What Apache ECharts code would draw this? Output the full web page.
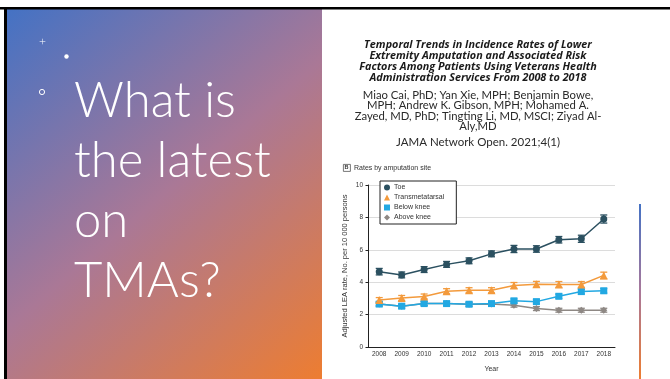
<!DOCTYPE html>
<html>
<head>
<meta charset="utf-8">
<script src="https://cdn.jsdelivr.net/npm/echarts@6/dist/echarts.min.js"></script>
<style>
  html, body { margin: 0; padding: 0; background: #ffffff; }
  #main { width: 670px; height: 379px; }
</style>
</head>
<body>
<div id="main"></div>
<script>
// Years on the horizontal axis
const years = ['2008', '2009', '2010', '2011', '2012', '2013', '2014', '2015', '2016', '2017', '2018'];

// Adjusted LEA rate per 10 000 persons, by amputation site
const toe = [4.65, 4.45, 4.78, 5.1, 5.32, 5.75, 6.05, 6.05, 6.62, 6.68, 7.9];
const transmetatarsal = [2.9, 3.03, 3.12, 3.44, 3.5, 3.5, 3.8, 3.87, 3.86, 3.86, 4.42];
const belowKnee = [2.65, 2.52, 2.68, 2.68, 2.64, 2.68, 2.85, 2.8, 3.13, 3.42, 3.47];
const aboveKnee = [2.65, 2.52, 2.68, 2.68, 2.64, 2.65, 2.58, 2.37, 2.27, 2.27, 2.27];

// Half-width of the confidence interval around each point
const toeErr = [0.2, 0.18, 0.18, 0.18, 0.18, 0.18, 0.22, 0.2, 0.2, 0.22, 0.25];
const transErr = [0.15, 0.15, 0.15, 0.16, 0.16, 0.16, 0.18, 0.18, 0.18, 0.18, 0.2];
const belowErr = [0.12, 0.12, 0.12, 0.12, 0.12, 0.12, 0.12, 0.13, 0.13, 0.14, 0.14];
const aboveErr = [0.12, 0.12, 0.12, 0.12, 0.12, 0.12, 0.12, 0.12, 0.12, 0.12, 0.12];

// Y axis ticks
const yTicks = [0, 2, 4, 6, 8, 10];

const seriesNames = ['Toe', 'Transmetatarsal', 'Below knee', 'Above knee'];
const seriesColors = ['#2b5060', '#f39a3c', '#22a8e2', '#8e8884'];
const seriesSymbols = ['circle', 'triangle', 'rect', 'diamond'];
const seriesValues = [toe, transmetatarsal, belowKnee, aboveKnee];
const seriesErrors = [toeErr, transErr, belowErr, aboveErr];

const chart = echarts.init(document.getElementById('main'), null, { renderer: 'canvas' });

const axisFont = 'Liberation Sans';

function errorBarSeries(idx) {
  const vals = seriesValues[idx];
  const errs = seriesErrors[idx];
  const color = seriesColors[idx];
  return {
    type: 'custom',
    name: seriesNames[idx] + ' CI',
    silent: true,
    z: 3,
    data: vals.map((v, i) => [i, v - errs[i], v + errs[i]]),
    renderItem: function (params, api) {
      const x = api.value(0);
      const lo = api.coord([x, api.value(1)]);
      const hi = api.coord([x, api.value(2)]);
      const cap = 3.5;
      const style = { stroke: color, lineWidth: 1.3 };
      return {
        type: 'group',
        children: [
          { type: 'line', shape: { x1: lo[0], y1: lo[1], x2: hi[0], y2: hi[1] }, style: style },
          { type: 'line', shape: { x1: lo[0] - cap, y1: lo[1], x2: lo[0] + cap, y2: lo[1] }, style: style },
          { type: 'line', shape: { x1: hi[0] - cap, y1: hi[1], x2: hi[0] + cap, y2: hi[1] }, style: style }
        ]
      };
    }
  };
}

function lineSeries(idx) {
  return {
    type: 'line',
    name: seriesNames[idx],
    data: seriesValues[idx],
    symbol: seriesSymbols[idx],
    symbolSize: idx === 1 ? 8 : 7,
    showAllSymbol: true,
    z: 4,
    lineStyle: { color: seriesColors[idx], width: 1.5 },
    itemStyle: { color: seriesColors[idx] },
    emphasis: { disabled: true },
    animation: false
  };
}

const option = {
  animation: false,
  backgroundColor: '#ffffff',
  graphic: [
    // gradient panel
    {
      type: 'rect', left: 7, top: 9, z: 0,
      shape: { width: 315, height: 370 },
      style: {
        fill: new echarts.graphic.LinearGradient(0, 0, 1, 1, [
          { offset: 0, color: '#4472c4' },
          { offset: 0.5, color: '#aa7896' },
          { offset: 1, color: '#ed7d31' }
        ])
      }
    },
    // frame lines
    { type: 'rect', left: 0, top: 7, z: 1, shape: { width: 670, height: 2.5 }, style: { fill: '#000000' } },
    { type: 'rect', left: 4, top: 7, z: 1, shape: { width: 3, height: 372 }, style: { fill: '#000000' } },
    // bullets
    { type: 'text', left: 39, top: 35, z: 2, style: { text: '+', fill: '#ffffff', font: '300 12px Lato' } },
    { type: 'circle', z: 2, shape: { cx: 66.5, cy: 56.5, r: 2.2 }, style: { fill: '#ffffff' } },
    { type: 'circle', z: 2, shape: { cx: 42, cy: 92, r: 2.6 }, style: { fill: 'none', stroke: '#ffffff', lineWidth: 1 } },
    // headline
    {
      type: 'text', left: 74, top: 71, z: 2,
      style: {
        text: 'What is\nthe latest\non\nTMAs?',
        fill: '#ffffff',
        font: '300 49px Lato',
        lineHeight: 60
      }
    },
    // article header
    {
      type: 'text', x: 478, y: 40, z: 2,
      style: {
        text: 'Temporal Trends in Incidence Rates of Lower\nExtremity Amputation and Associated Risk\nFactors Among Patients Using Veterans Health\nAdministration Services From 2008 to 2018',
        fill: '#1a1a1a',
        font: 'italic bold 10.8px "Open Sans"',
        align: 'center',
        lineHeight: 10.7
      }
    },
    {
      type: 'text', x: 478, y: 90, z: 2,
      style: {
        text: 'Miao Cai, PhD; Yan Xie, MPH; Benjamin Bowe,\nMPH; Andrew K. Gibson, MPH; Mohamed A.\nZayed, MD, PhD; Tingting Li, MD, MSCI; Ziyad Al-',
        fill: '#2a2a2a',
        font: '11.3px Lato',
        align: 'center',
        lineHeight: 10.5
      }
    },
    {
      type: 'text', x: 478, y: 121, z: 2,
      style: { text: 'Aly,MD', fill: '#2a2a2a', font: '11.3px Lato', align: 'center' }
    },
    {
      type: 'text', x: 478, y: 136, z: 2,
      style: { text: 'JAMA Network Open. 2021;4(1)', fill: '#2a2a2a', font: '11.5px Lato', align: 'center' }
    },
    // panel label
    { type: 'rect', left: 343, top: 164, z: 2, shape: { width: 7, height: 7 }, style: { fill: '#ffffff', stroke: '#555', lineWidth: 0.8 } },
    { type: 'text', x: 346.5, y: 167.8, z: 3, style: { text: 'B', fill: '#333', font: 'bold 5.5px Liberation Sans', align: 'center', verticalAlign: 'middle' } },
    { type: 'text', x: 354, y: 168, z: 2, style: { text: 'Rates by amputation site', fill: '#333', font: '7px Liberation Sans', verticalAlign: 'middle' } },
    // accent rule on the right
    {
      type: 'rect', left: 639, top: 204, z: 2,
      shape: { width: 2, height: 175 },
      style: {
        fill: new echarts.graphic.LinearGradient(0, 0, 0, 1, [
          { offset: 0, color: '#4472c4' },
          { offset: 0.5, color: '#a9789a' },
          { offset: 1, color: '#ed7d31' }
        ])
      }
    }
  ],
  legend: {
    left: 380, top: 181,
    orient: 'vertical',
    itemWidth: 6, itemHeight: 6, itemGap: 3,
    padding: [3, 12, 3, 4],
    borderColor: '#222', borderWidth: 1,
    backgroundColor: '#ffffff',
    z: 10,
    textStyle: { fontSize: 7, color: '#333', fontFamily: axisFont, padding: [0, 0, 0, -1] },
    data: seriesNames.map((n, i) => ({ name: n, icon: seriesSymbols[i] })),
    selectedMode: false
  },
  grid: { left: 368, right: 55, top: 185, bottom: 32, containLabel: false },
  xAxis: {
    type: 'category',
    data: years,
    boundaryGap: true,
    name: 'Year',
    nameLocation: 'middle',
    nameGap: 19,
    nameTextStyle: { fontSize: 7, color: '#333', fontFamily: axisFont },
    axisLine: { lineStyle: { color: '#222', width: 1 } },
    axisTick: { alignWithLabel: true, length: 2.5, lineStyle: { color: '#222' } },
    axisLabel: { fontSize: 6.5, color: '#333', fontFamily: axisFont, margin: 4 }
  },
  yAxis: {
    type: 'value',
    min: yTicks[0], max: yTicks[yTicks.length - 1], interval: 2,
    name: 'Adjusted LEA rate, No. per 10 000 persons',
    nameLocation: 'middle',
    nameGap: 19,
    nameTextStyle: { fontSize: 7.5, color: '#333', fontFamily: axisFont },
    axisLine: { show: true, lineStyle: { color: '#222', width: 1 } },
    axisTick: { show: true, length: 2.5, lineStyle: { color: '#222' } },
    axisLabel: { fontSize: 6.5, color: '#333', fontFamily: axisFont, margin: 5 },
    splitLine: { show: true, lineStyle: { color: '#dcdcdc', width: 1 } }
  },
  series: [
    errorBarSeries(3), lineSeries(3),
    errorBarSeries(2), lineSeries(2),
    errorBarSeries(1), lineSeries(1),
    errorBarSeries(0), lineSeries(0)
  ]
};

chart.setOption(option);
</script>
</body>
</html>
